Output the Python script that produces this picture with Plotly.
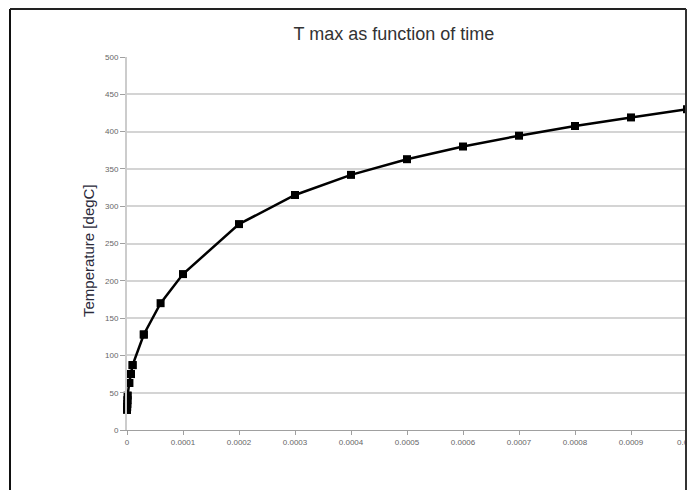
import plotly.graph_objects as go

# Data
time_s = [0, 2e-7, 4e-7, 6e-7, 1e-6, 4e-6, 7e-6, 1e-5, 3e-5, 6e-5,
          1e-4, 2e-4, 3e-4, 4e-4, 5e-4, 6e-4, 7e-4, 8e-4, 9e-4, 1e-3]
tmax_c = [27, 31, 35, 40, 46, 63, 75, 87, 128, 170,
          209, 276, 315, 342, 363, 380, 394.5, 407.5, 419, 430]

x_tickvals = [0, 0.0001, 0.0002, 0.0003, 0.0004, 0.0005, 0.0006, 0.0007, 0.0008, 0.0009, 0.001]
x_ticktext = ["0", "0.0001", "0.0002", "0.0003", "0.0004", "0.0005", "0.0006", "0.0007", "0.0008", "0.0009", "0.001"]
y_tickvals = [0, 50, 100, 150, 200, 250, 300, 350, 400, 450, 500]

tick_font = dict(family="Liberation Sans Narrow, Liberation Sans, Arial", size=8, color="#666666")

fig = go.Figure()
fig.add_trace(go.Scatter(
    x=time_s, y=tmax_c, mode="lines+markers",
    line=dict(color="black", width=2.5),
    marker=dict(symbol="square", size=8, color="black"),
    cliponaxis=True,
    showlegend=False, hoverinfo="skip",
))
# early points sit on the y axis; draw their markers unclipped
early = [i for i, t in enumerate(time_s) if t < 5e-5]
fig.add_trace(go.Scatter(
    x=[time_s[i] for i in early], y=[tmax_c[i] for i in early], mode="markers",
    marker=dict(symbol="square", size=8, color="black"),
    cliponaxis=False,
    showlegend=False, hoverinfo="skip",
))

L, R, T, B = 127, 1, 57, 60
W, H = 688, 490
pw, ph = W - L - R, H - T - B

def px_x(p):
    return (p - L) / pw

def px_y(p):
    return (H - B - p) / ph

fig.update_layout(
    width=W, height=H,
    margin=dict(l=L, r=R, t=T, b=B, autoexpand=False),
    paper_bgcolor="white", plot_bgcolor="white",
    title=dict(text="T max as function of time", x=394 / W, y=1 - 34 / H,
               xanchor="center", yanchor="middle", xref="container", yref="container",
               font=dict(family="Liberation Sans, Arial", size=18, color="#333333")),
    xaxis=dict(range=[0, 0.001], tickvals=x_tickvals, ticktext=x_ticktext,
               showgrid=False, zeroline=False, showline=True, linecolor="#a0a0a0", linewidth=1,
               ticks="outside", ticklen=4, tickcolor="#a0a0a0", tickfont=tick_font,
               tickangle=0, ticklabeloverflow="allow", automargin=False),
    yaxis=dict(range=[0, 500], tickvals=y_tickvals,
               showgrid=True, gridcolor="#d4d4d4", gridwidth=1.5, zeroline=False,
               showline=True, linecolor="#cccccc", linewidth=2, automargin=False,
               ticks="outside", ticklen=5, tickcolor="#a0a0a0", tickfont=tick_font),
    annotations=[dict(text="Temperature [degC]", textangle=-90, x=px_x(88), y=px_y(251),
                      xref="paper", yref="paper", showarrow=False, xanchor="center", yanchor="middle",
                      font=dict(family="Liberation Sans, Arial", size=15, color="#2a2a3a"))],
    shapes=[
        dict(type="rect", xref="paper", yref="paper", x0=px_x(686), x1=px_x(700),
             y0=px_y(500), y1=px_y(0), fillcolor="white", line=dict(width=0), layer="above"),
        dict(type="line", xref="paper", yref="paper", x0=px_x(10), x1=px_x(10),
             y0=px_y(9), y1=px_y(495), line=dict(color="#111111", width=2), layer="above"),
        dict(type="line", xref="paper", yref="paper", x0=px_x(10), x1=px_x(686),
             y0=px_y(9), y1=px_y(9), line=dict(color="#222222", width=2), layer="above"),
        dict(type="line", xref="paper", yref="paper", x0=px_x(686), x1=px_x(686),
             y0=px_y(9), y1=px_y(495), line=dict(color="#333333", width=2), layer="above"),
    ],
)

fig.write_html("out.html", config={"displayModeBar": False},
               post_script="document.body.style.margin='0';document.body.style.overflow='hidden';")
